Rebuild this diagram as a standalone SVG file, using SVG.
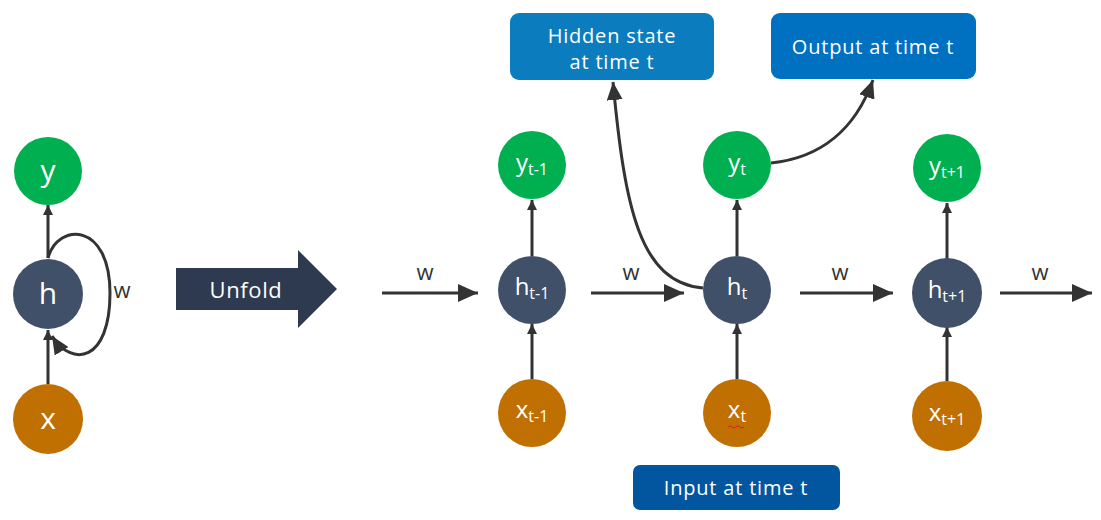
<svg xmlns="http://www.w3.org/2000/svg" width="1101" height="520" viewBox="0 0 1101 520">
<style>
.lbl{font-family:"Open Sans","Liberation Sans",sans-serif;fill:#fff;text-anchor:middle}
.y{fill:#00B050}.h{fill:#3F5068}.x{fill:#C07000}
.c{fill:none;stroke:#333;stroke-width:3}
.w{font-family:"Open Sans","Liberation Sans",sans-serif;font-size:22px;fill:#333;text-anchor:middle}
.box{font-family:"Open Sans","Liberation Sans",sans-serif;font-size:20px;letter-spacing:0.8px;fill:#fff;text-anchor:middle}
</style>
<defs>
<marker id="big" markerUnits="userSpaceOnUse" markerWidth="20" markerHeight="18" refX="20" refY="9" orient="auto"><path d="M0,0 L20,9 L0,18 z" fill="#333"/></marker>
<marker id="sm" markerUnits="userSpaceOnUse" markerWidth="10" markerHeight="10" refX="10" refY="5" orient="auto"><path d="M0,0 L10,5 L0,10 z" fill="#333"/></marker>
<marker id="mid" markerUnits="userSpaceOnUse" markerWidth="18" markerHeight="16" refX="18" refY="8" orient="auto"><path d="M0,0 L18,8 L0,16 z" fill="#333"/></marker>
</defs>
<rect width="1101" height="520" fill="#fff"/>
<g id="connectors">
<line class="c" x1="48" y1="258" x2="48" y2="205" marker-end="url(#sm)"/>
<line class="c" x1="48" y1="384" x2="48" y2="330" marker-end="url(#sm)"/>
<path class="c" d="M48,258 C58,222 110,222 110,293 C110,362 72,368 52,336" marker-end="url(#mid)"/>
<line class="c" x1="382" y1="293" x2="478" y2="293" marker-end="url(#big)"/>
<line class="c" x1="591" y1="293" x2="684" y2="293" marker-end="url(#big)"/>
<line class="c" x1="800" y1="293" x2="893" y2="293" marker-end="url(#big)"/>
<line class="c" x1="1000" y1="293" x2="1092" y2="293" marker-end="url(#big)"/>
<line class="c" x1="532" y1="379" x2="532" y2="324" marker-end="url(#sm)"/>
<line class="c" x1="532" y1="256" x2="532" y2="200" marker-end="url(#sm)"/>
<line class="c" x1="737" y1="379" x2="737" y2="324" marker-end="url(#sm)"/>
<line class="c" x1="737" y1="256" x2="737" y2="200" marker-end="url(#sm)"/>
<line class="c" x1="947" y1="381" x2="947" y2="327" marker-end="url(#sm)"/>
<line class="c" x1="947" y1="259" x2="947" y2="203" marker-end="url(#sm)"/>
<path class="c" d="M703,288 C640,282 625,210 613,82" marker-end="url(#mid)"/>
<path class="c" d="M771,163 C820,158 855,130 873,80" marker-end="url(#mid)"/>
</g>
<g id="text-w">
<text class="w" x="122" y="298">w</text>
<text class="w" x="425" y="280">w</text>
<text class="w" x="631" y="280">w</text>
<text class="w" x="840" y="280">w</text>
<text class="w" x="1040" y="280">w</text>
</g>
<g id="unfold">
<path d="M176,268 H298 V250 L337,289 L298,328 V310 H176 z" fill="#2E3A4F"/>
<text class="lbl" x="246" y="298" font-size="22" letter-spacing="0.6">Unfold</text>
</g>
<g id="y"><circle class="y" cx="48" cy="171" r="34"/><text class="lbl" x="48" y="181" font-size="30">y</text></g>
<g id="h"><circle class="h" cx="48" cy="294" r="35"/><text class="lbl" x="48" y="304" font-size="30">h</text></g>
<g id="x"><circle class="x" cx="48" cy="419" r="35"/><text class="lbl" x="48" y="429" font-size="30">x</text></g>
<g id="y_t-1"><circle class="y" cx="532" cy="165" r="34"/><text class="lbl" x="532" y="171" font-size="24">y<tspan font-size="16" dy="4">t-1</tspan></text></g>
<g id="h_t-1"><circle class="h" cx="532" cy="290" r="34"/><text class="lbl" x="532" y="295" font-size="24">h<tspan font-size="16" dy="4">t-1</tspan></text></g>
<g id="x_t-1"><circle class="x" cx="532" cy="413" r="34"/><text class="lbl" x="532" y="418" font-size="24">x<tspan font-size="16" dy="4">t-1</tspan></text></g>
<g id="y_t"><circle class="y" cx="737" cy="165" r="34"/><text class="lbl" x="737" y="171" font-size="24">y<tspan font-size="16" dy="4">t</tspan></text></g>
<g id="h_t"><circle class="h" cx="737" cy="290" r="34"/><text class="lbl" x="737" y="295" font-size="24">h<tspan font-size="16" dy="4">t</tspan></text></g>
<g id="x_t"><circle class="x" cx="737" cy="413" r="34"/><text class="lbl" x="737" y="418" font-size="24">x<tspan font-size="16" dy="4">t</tspan></text><path d="M728,427 q2,-2 4,0 t4,0 t4,0 t4,0" fill="none" stroke="#e02020" stroke-width="1"/></g>
<g id="y_t+1"><circle class="y" cx="947" cy="168" r="34"/><text class="lbl" x="947" y="174" font-size="24">y<tspan font-size="16" dy="4">t+1</tspan></text></g>
<g id="h_t+1"><circle class="h" cx="947" cy="293" r="35"/><text class="lbl" x="947" y="298" font-size="24">h<tspan font-size="16" dy="4">t+1</tspan></text></g>
<g id="x_t+1"><circle class="x" cx="947" cy="416" r="35"/><text class="lbl" x="947" y="421" font-size="24">x<tspan font-size="16" dy="4">t+1</tspan></text></g>
<g id="hidden-box"><rect x="510" y="13" width="204" height="67" rx="9" fill="#0B7DBE"/><text class="box" x="612" y="43">Hidden state</text><text class="box" x="612" y="69">at time t</text></g>
<g id="output-box"><rect x="771" y="13" width="205" height="66" rx="9" fill="#0070C0"/><text class="box" x="873" y="54">Output at time t</text></g>
<g id="input-box"><rect x="633" y="465" width="207" height="45" rx="7" fill="#0256A0"/><text class="box" x="736" y="495">Input at time t</text></g>
</svg>
